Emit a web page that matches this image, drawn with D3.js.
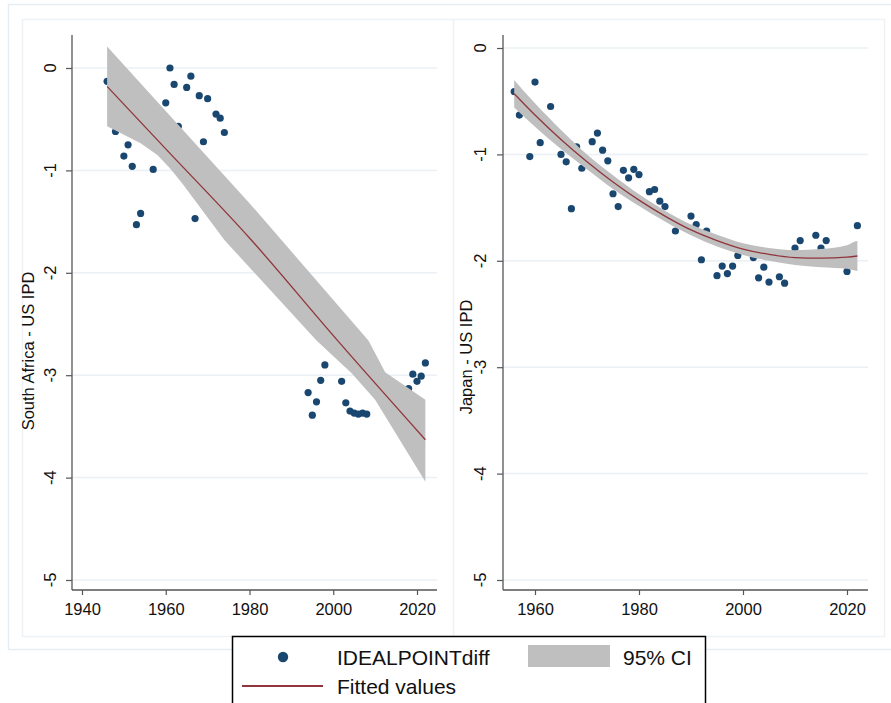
<!DOCTYPE html>
<html>
<head>
<meta charset="utf-8">
<script src="https://cdn.jsdelivr.net/npm/d3@7"></script>
<style>
  body { margin: 0; background: #fff; }
  svg { display: block; font-family: "Liberation Sans", Arial, sans-serif; }
</style>
</head>
<body>
<svg id="chart" width="891" height="703"></svg>
<script>
// South Africa - US ideal point difference
var saYears = [1946, 1948, 1950, 1951, 1952, 1953, 1954, 1957, 1960, 1961, 1962, 1963, 1965, 1966,
  1967, 1968, 1969, 1970, 1971, 1972, 1973, 1974,
  1994, 1995, 1996, 1997, 1998, 2002, 2003, 2004, 2005, 2006, 2007, 2008, 2018, 2019, 2020, 2021, 2022];
var saValues = [-0.13, -0.62, -0.86, -0.75, -0.96, -1.53, -1.42, -0.99, -0.34, 0.0, -0.16, -0.57, -0.19, -0.08,
  -1.47, -0.27, -0.72, -0.30, -0.99, -0.45, -0.49, -0.63,
  -3.17, -3.39, -3.26, -3.05, -2.90, -3.06, -3.27, -3.35, -3.37, -3.38, -3.37, -3.38, -3.13, -2.99, -3.06, -3.01, -2.88];

// fitted values and 95% CI edges (left)
var saFitYears = [1946, 1960, 1980, 2001, 2022];
var saFit = [-0.18, -0.79, -1.66, -2.66, -3.63];
var saHiYears = [1946, 1980, 2008.4, 2012.4, 2022];
var saHi = [0.21, -1.32, -2.66, -2.97, -3.24];
var saLoYears = [1946, 1954, 1958, 1961, 1964, 1974, 1996, 2004.4, 2010, 2022];
var saLo = [-0.57, -0.735, -0.85, -0.98, -1.13, -1.68, -2.66, -2.98, -3.24, -4.04];

// Japan - US ideal point difference
var jpYears = [1956, 1957, 1959, 1960, 1961, 1963, 1965, 1966, 1967, 1968, 1969, 1971, 1972, 1973, 1974,
  1975, 1976, 1977, 1978, 1979, 1980, 1982, 1983, 1984, 1985, 1987, 1990, 1991, 1992, 1993,
  1995, 1996, 1997, 1998, 1999, 2002, 2003, 2004, 2005, 2007, 2008, 2010, 2011, 2014, 2015, 2016, 2020, 2022];
var jpValues = [-0.41, -0.63, -1.02, -0.32, -0.89, -0.55, -1.00, -1.07, -1.51, -0.93, -1.13, -0.88, -0.80, -0.96, -1.06,
  -1.37, -1.49, -1.15, -1.22, -1.14, -1.19, -1.35, -1.33, -1.44, -1.49, -1.72, -1.58, -1.66, -1.99, -1.72,
  -2.14, -2.05, -2.12, -2.05, -1.95, -1.97, -2.16, -2.06, -2.20, -2.15, -2.21, -1.88, -1.81, -1.76, -1.88, -1.81, -2.10, -1.67];

var jpFitYears = [1956, 1960, 1965, 1970, 1975, 1980, 1985, 1990, 1995, 2000, 2005, 2010, 2015, 2020, 2022];
var jpFit = [-0.43, -0.63, -0.86, -1.07, -1.26, -1.43, -1.58, -1.71, -1.81, -1.89, -1.94, -1.97, -1.975, -1.965, -1.955];
var jpLo = [-0.56, -0.74, -0.95, -1.14, -1.325, -1.485, -1.63, -1.76, -1.865, -1.945, -2.0, -2.04, -2.06, -2.075, -2.095];
var jpHi = [-0.30, -0.52, -0.77, -1.0, -1.195, -1.375, -1.53, -1.66, -1.755, -1.835, -1.88, -1.90, -1.89, -1.855, -1.815];

var yTicks = [0, -1, -2, -3, -4, -5];
var saXTicks = [1940, 1960, 1980, 2000, 2020];
var jpXTicks = [1960, 1980, 2000, 2020];

var navy = "#1a476f", maroon = "#90353b", band = "#bfbfbf";
var svg = d3.select("#chart");

// outer frame and panel frames
svg.append("rect").attr("x", 8.5).attr("y", 4.5).attr("width", 900).attr("height", 645)
  .attr("fill", "#fff").attr("stroke", "#e6edf2").attr("stroke-width", 1.5);
svg.append("rect").attr("x", 22.5).attr("y", 19.5).attr("width", 431).attr("height", 617)
  .attr("fill", "#fff").attr("stroke", "#eef2f5").attr("stroke-width", 1.5);
svg.append("rect").attr("x", 453.5).attr("y", 19.5).attr("width", 431).attr("height", 617)
  .attr("fill", "#fff").attr("stroke", "#eef2f5").attr("stroke-width", 1.5);

function drawPanel(p) {
  var x = d3.scaleLinear().domain(p.xDomain).range(p.xRange);
  var y = d3.scaleLinear().domain([0, -5]).range(p.yRange);
  var g = svg.append("g");

  // gridlines
  g.selectAll(".grid").data(yTicks).enter().append("line")
    .attr("x1", p.left).attr("x2", p.right)
    .attr("y1", d => y(d)).attr("y2", d => y(d))
    .attr("stroke", "#eaf0f5").attr("stroke-width", 1.5);

  // scatter
  g.selectAll(".pt").data(p.years).enter().append("circle")
    .attr("cx", d => x(d)).attr("cy", (d, i) => y(p.values[i]))
    .attr("r", 3.6).attr("fill", navy);

  // CI band: upper edge forward, lower edge back
  var upper = p.hiYears.map((yr, i) => [x(yr), y(p.hi[i])]);
  var lower = p.loYears.map((yr, i) => [x(yr), y(p.lo[i])]).reverse();
  g.append("path")
    .attr("d", d3.line().curve(p.curve)(upper.concat(lower)) + "Z")
    .attr("fill", band);

  var fitPts = p.fitYears.map((yr, i) => [x(yr), y(p.fit[i])]);
  g.append("path")
    .attr("d", d3.line().curve(d3.curveMonotoneX)(fitPts))
    .attr("fill", "none").attr("stroke", maroon).attr("stroke-width", 1.3);

  // axes
  var xAxis = g.append("g").attr("transform", "translate(0," + p.bottom + ")")
    .call(d3.axisBottom(x).tickValues(p.xTicks).tickFormat(d3.format("d")).tickSize(5).tickPadding(8));
  xAxis.select(".domain").remove();
  xAxis.selectAll("line").attr("stroke", "#555").attr("stroke-width", 1.2);
  xAxis.selectAll("text").attr("font-size", 16.5).attr("fill", "#111")
    .attr("font-family", "Liberation Sans, Arial, sans-serif");

  var yAxis = g.append("g").attr("transform", "translate(" + p.left + ",0)")
    .call(d3.axisLeft(y).tickValues(yTicks).tickSize(6));
  yAxis.select(".domain").remove();
  yAxis.selectAll("line").attr("stroke", "#555").attr("stroke-width", 1.2);
  yAxis.selectAll("text").remove();
  g.selectAll(".ylab").data(yTicks).enter().append("text")
    .attr("transform", d => "translate(" + p.tickLabelX + "," + y(d) + ") rotate(-90)")
    .attr("text-anchor", "middle").attr("font-size", 16.5).attr("fill", "#111")
    .text(d => String(d));

  g.append("line").attr("x1", p.left).attr("x2", p.left).attr("y1", p.top).attr("y2", p.bottom)
    .attr("stroke", "#555").attr("stroke-width", 1.3);
  g.append("line").attr("x1", p.left).attr("x2", p.right).attr("y1", p.bottom).attr("y2", p.bottom)
    .attr("stroke", "#555").attr("stroke-width", 1.3);

  g.append("text")
    .attr("transform", "translate(" + p.titleX + "," + p.titleY + ") rotate(-90)")
    .attr("text-anchor", "middle").attr("font-size", 16.5).attr("fill", "#111")
    .text(p.title);
}

drawPanel({
  years: saYears, values: saValues, fitYears: saFitYears, fit: saFit,
  hiYears: saHiYears, hi: saHi, loYears: saLoYears, lo: saLo, curve: d3.curveLinear,
  xDomain: [1940, 2020], xRange: [82, 417], yRange: [68, 580], xTicks: saXTicks,
  left: 72, right: 437, top: 35, bottom: 590, tickLabelX: 56,
  title: "South Africa - US IPD", titleX: 34, titleY: 351
});
drawPanel({
  years: jpYears, values: jpValues, fitYears: jpFitYears, fit: jpFit,
  hiYears: jpFitYears, hi: jpHi, loYears: jpFitYears, lo: jpLo, curve: d3.curveMonotoneX,
  xDomain: [1960, 2020], xRange: [535, 847], yRange: [48, 580], xTicks: jpXTicks,
  left: 503, right: 868, top: 35, bottom: 590, tickLabelX: 486,
  title: "Japan - US IPD", titleX: 472, titleY: 357
});

// legend
var lg = svg.append("g");
lg.append("rect").attr("x", 232.5).attr("y", 636.5).attr("width", 473).attr("height", 80)
  .attr("fill", "#fff").attr("stroke", "#000").attr("stroke-width", 1.5);
lg.append("circle").attr("cx", 283).attr("cy", 657).attr("r", 5.2).attr("fill", navy);
lg.append("text").attr("x", 337).attr("y", 665).attr("font-size", 21).attr("fill", "#111").text("IDEALPOINTdiff");
lg.append("rect").attr("x", 528).attr("y", 645).attr("width", 82).attr("height", 22).attr("fill", band);
lg.append("text").attr("x", 623).attr("y", 665).attr("font-size", 21).attr("fill", "#111").text("95% CI");
lg.append("line").attr("x1", 242).attr("x2", 323).attr("y1", 686).attr("y2", 686)
  .attr("stroke", maroon).attr("stroke-width", 2);
lg.append("text").attr("x", 337).attr("y", 694).attr("font-size", 21).attr("fill", "#111").text("Fitted values");
</script>
</body>
</html>
